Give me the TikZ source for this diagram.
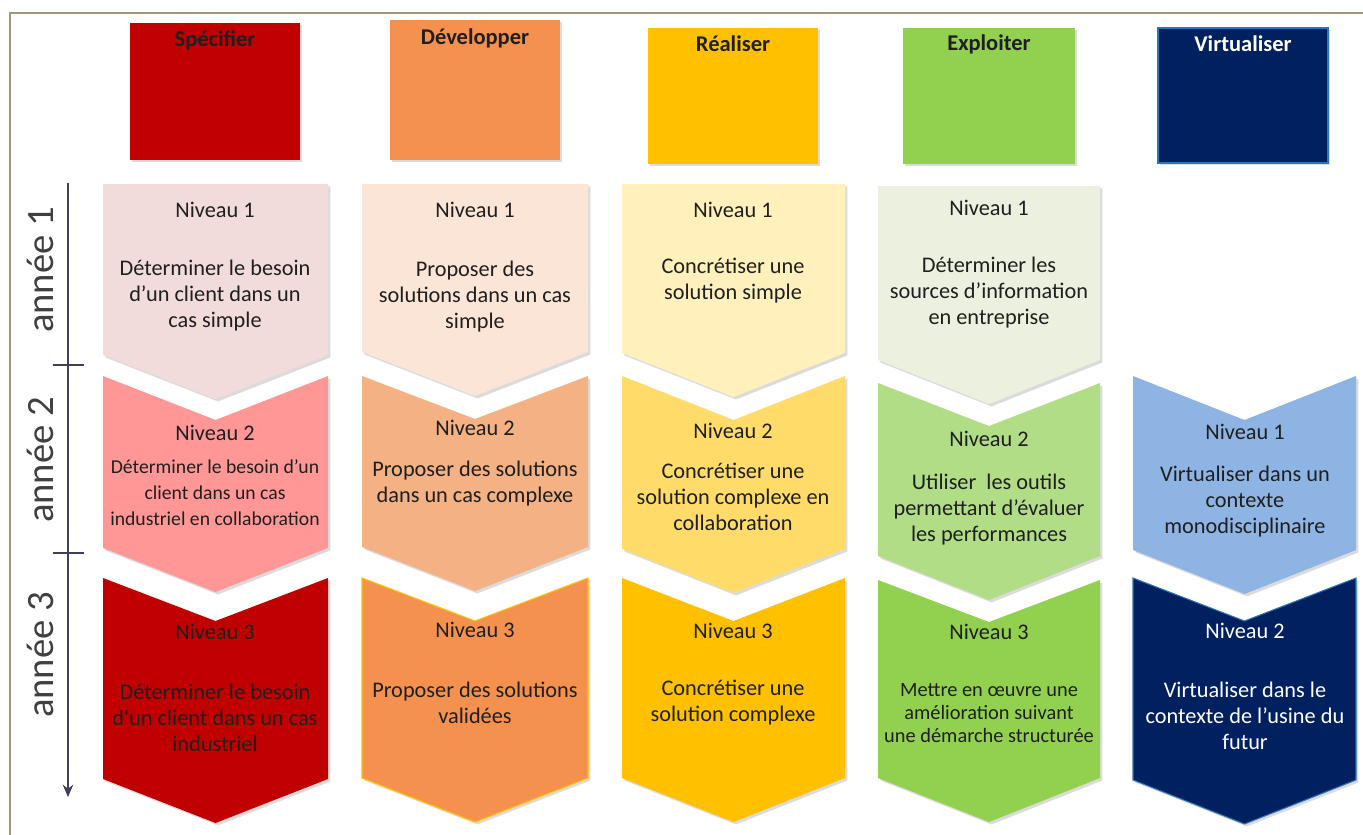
\documentclass[tikz,border=0pt]{standalone}
\usepackage{fontspec}
\setmainfont{Carlito}
\usetikzlibrary{shadows,arrows.meta}
\definecolor{frameC}{HTML}{A39779}
\definecolor{specD}{HTML}{C00000}
\definecolor{specM}{HTML}{FF9797}
\definecolor{specL}{HTML}{F2DCDB}
\definecolor{devD}{HTML}{F5914F}
\definecolor{devM}{HTML}{F4B183}
\definecolor{devL}{HTML}{FBE5D6}
\definecolor{reaD}{HTML}{FFC000}
\definecolor{reaM}{HTML}{FFDC6A}
\definecolor{reaL}{HTML}{FFF0BC}
\definecolor{expD}{HTML}{92D050}
\definecolor{expM}{HTML}{B1DD86}
\definecolor{expL}{HTML}{EBF1DE}
\definecolor{virD}{HTML}{002060}
\definecolor{virM}{HTML}{8EB4E3}
\definecolor{virB}{HTML}{2E75B6}
\definecolor{axisC}{HTML}{3F3F5A}
\definecolor{txt}{HTML}{1F1F1F}
\definecolor{lab}{HTML}{404040}
\newcommand{\mychev}[7]{%
  \path[shd,#7] (#2,#4) -- ({(#2+#3)/2},{#4+#6}) -- (#3,#4) -- (#3,#5)
     -- ({(#2+#3)/2},{#5+44}) -- (#2,#5) -- cycle;
  \coordinate (#1) at ({(#2+#3)/2},{(#4+#5)/2});
}
\begin{document}
\begin{tikzpicture}[x=0.02cm,y=-0.02cm,
  every node/.style={inner sep=0pt,outer sep=0pt},
  shd/.style={drop shadow={shadow xshift=1.4pt,shadow yshift=-1.4pt,opacity=0.28}},
  hdrbox/.style={shd,minimum width=3.4cm},
  hdrtxt/.style={font=\fontsize{12.8}{15}\selectfont\bfseries,text=txt},
  lvl/.style={font=\fontsize{12.7}{15}\selectfont,text=txt},
  body/.style={align=center,font=\fontsize{12.7}{14.8}\selectfont,text=txt},
  bodys/.style={align=center,font=\fontsize{11.2}{14.8}\selectfont,text=txt},
  bodyt/.style={align=center,font=\fontsize{11.6}{13}\selectfont,text=txt},
  yearlab/.style={rotate=90,font=\fontsize{22}{24}\selectfont,text=lab}
]
\useasboundingbox (0,0) rectangle (1363,835);
\fill[white] (0,0) rectangle (1363,835);
% frame
\draw[frameC,line width=1.3pt] (10,850) -- (10,13) -- (1380,13);

% headers
\node[hdrbox,fill=specD,minimum height=2.74cm] (hSpec) at (215,91.5) {};
\node[hdrbox,fill=devD,minimum height=2.8cm] (hDev) at (475,90) {};
\node[hdrbox,fill=reaD,minimum height=2.72cm] (hRea) at (733,96) {};
\node[hdrbox,fill=expD,minimum height=2.72cm,minimum width=3.44cm] (hExp) at (989,96) {};
\node[hdrbox,fill=virD,draw=virB,line width=1pt,minimum height=2.7cm] (hVir) at (1243,95.5) {};
\node[hdrtxt] (tSpec) at (215,40) {Spécifier};
\node[hdrtxt] (tDev) at (475,38) {Développer};
\node[hdrtxt] (tRea) at (733,44) {Réaliser};
\node[hdrtxt] (tExp) at (989,44) {Exploiter};
\node[hdrtxt,text=white] (tVir) at (1243,44) {Virtualiser};

% axis
\coordinate (axtop) at (68,183);
\coordinate (axbot) at (68,797);
\draw[axisC,line width=0.9pt,-{Stealth[length=7pt,width=6pt]}] (axtop) -- (axbot);
\coordinate (tk1a) at (53,365); \coordinate (tk1b) at (84,365);
\coordinate (tk2a) at (53,553); \coordinate (tk2b) at (84,553);
\draw[axisC,line width=0.7pt] (tk1a) -- (tk1b);
\draw[axisC,line width=0.7pt] (tk2a) -- (tk2b);
\node[yearlab] (y1) at (40,270) {année 1};
\node[yearlab] (y2) at (40,460) {année 2};
\node[yearlab] (y3) at (40,655) {année 3};

% column 1 : Spécifier
\mychev{c11}{103}{328}{184}{355}{0}{fill=specL}
\mychev{c12}{103}{328}{376}{548}{44}{fill=specM}
\mychev{c13}{103}{328}{578}{779}{43}{fill=specD}
% column 2 : Développer
\mychev{c21}{362}{588}{184}{352}{0}{fill=devL}
\mychev{c22}{362}{588}{376}{547}{43}{fill=devM}
\mychev{c23}{362}{588}{578}{778}{43}{fill=devD,draw=reaD,line width=0.6pt}
% column 3 : Réaliser
\mychev{c31}{622}{845}{184}{353}{0}{fill=reaL}
\mychev{c32}{622}{845}{376}{549}{44}{fill=reaM}
\mychev{c33}{622}{845}{578}{778}{43}{fill=reaD}
% column 4 : Exploiter
\mychev{c41}{878}{1100}{186}{360}{0}{fill=expL}
\mychev{c42}{878}{1100}{383}{556}{43}{fill=expM}
\mychev{c43}{878}{1100}{580}{778}{42}{fill=expD}
% column 5 : Virtualiser
\mychev{c52}{1133}{1356}{376}{550}{44}{fill=virM}
\mychev{c53}{1133}{1356}{578}{780}{43}{fill=virD,draw=virB,line width=0.6pt}

% texts row 1
\node[lvl] (n11) at (215,210) {Niveau 1};
\node[body] (b11) at (215,296) {Déterminer le besoin\\d’un client dans un\\cas simple};
\node[lvl] (n21) at (475,210) {Niveau 1};
\node[body] (b21) at (475,296.5) {Proposer des\\solutions dans un cas\\simple};
\node[lvl] (n31) at (733,210) {Niveau 1};
\node[body] (b31) at (733,281) {Concrétiser une\\solution simple};
\node[lvl] (n41) at (989,208) {Niveau 1};
\node[body] (b41) at (989,293) {Déterminer les\\sources d’information\\en entreprise};

% texts row 2
\node[lvl] (n12) at (215,433) {Niveau 2};
\node[bodys] (b12) at (215,493) {Déterminer le besoin d’un\\client dans un cas\\industriel en collaboration};
\node[lvl] (n22) at (475,428) {Niveau 2};
\node[body] (b22) at (475,484) {Proposer des solutions\\dans un cas complexe};
\node[lvl] (n32) at (733,431) {Niveau 2};
\node[body] (b32) at (733,497) {Concrétiser une\\solution complexe en\\collaboration};
\node[lvl] (n42) at (989,439) {Niveau 2};
\node[body] (b42) at (989,510) {Utiliser\ \ les outils\\permettant d’évaluer\\les performances};
\node[lvl] (n52) at (1245,432) {Niveau 1};
\node[body] (b52) at (1245,502) {Virtualiser dans un\\contexte\\monodisciplinaire};

% texts row 3
\node[lvl] (n13) at (215,632) {Niveau 3};
\node[body] (b13) at (215,718) {Déterminer le besoin\\d\textquotesingle un client dans un cas\\industriel};
\node[lvl] (n23) at (475,630) {Niveau 3};
\node[body] (b23) at (475,703) {Proposer des solutions\\validées};
\node[lvl] (n33) at (733,631) {Niveau 3};
\node[body] (b33) at (733,703) {Concrétiser une\\solution complexe};
\node[lvl] (n43) at (989,632) {Niveau 3};
\node[bodyt] (b43) at (989,713) {Mettre en œuvre une\\amélioration suivant\\une démarche structurée};
\node[lvl,text=white] (n53) at (1245,631) {Niveau 2};
\node[body,text=white] (b53) at (1245,716) {Virtualiser dans le\\contexte de l’usine du\\futur};
\end{tikzpicture}
\end{document}
